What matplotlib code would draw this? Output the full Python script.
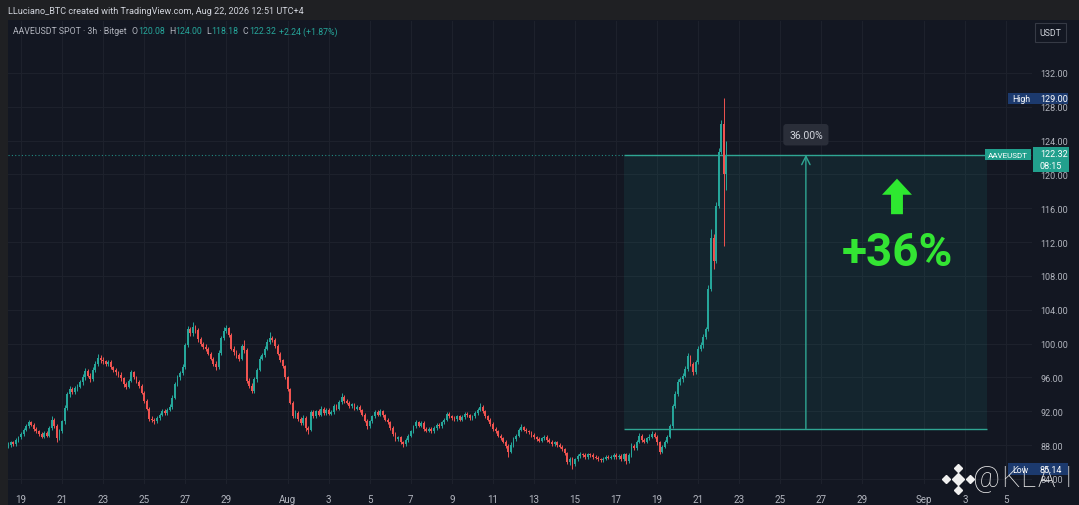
import matplotlib
matplotlib.use("Agg")
import matplotlib.pyplot as plt
import matplotlib.transforms as mtransforms
from matplotlib.patches import Rectangle
import numpy as np

plt.rcParams['font.family'] = ['Roboto', 'DejaVu Sans']

# AAVEUSDT 3h candles (Bitget), Jul 18 09:00 -> Aug 22 09:00, one row per day
first_open = 87.8
closes = [
    88.0, 88.3, 88.1, 88.6, 88.9,
    89.3, 89.8, 90.2, 90.7, 90.4, 89.9, 89.6, 89.3,
    89.0, 89.4, 89.1, 90.0, 91.0, 90.3, 88.8, 89.6,
    90.8, 92.4, 94.0, 94.6, 94.3, 94.7, 94.9, 95.4,
    96.0, 96.8, 96.2, 95.8, 96.9, 97.6, 98.3, 98.0,
    97.9, 97.6, 97.8, 97.2, 96.9, 96.6, 96.3, 95.9,
    95.2, 94.9, 95.6, 96.6, 96.0, 95.5, 95.0, 94.2,
    93.2, 92.3, 91.1, 91.0, 90.8, 91.2, 91.6, 92.0,
    91.8, 92.2, 92.5, 93.6, 95.2, 96.0, 96.5, 97.2,
    99.8, 101.7, 101.2, 102.0, 101.6, 100.5, 100.0, 99.6,
    99.4, 98.8, 98.2, 97.6, 97.2, 98.9, 100.6, 101.5,
    101.8, 101.0, 99.4, 99.0, 98.6, 98.2, 99.7, 99.2,
    95.6, 95.0, 94.4, 95.8, 96.9, 98.2, 98.6, 99.4,
    100.2, 100.6, 100.4, 99.7, 98.8, 98.0, 97.3, 96.0,
    94.6, 93.0, 91.4, 91.8, 91.1, 90.6, 91.2, 90.0,
    89.8, 91.9, 91.4, 92.0, 91.6, 92.3, 91.8, 92.2,
    91.7, 91.9, 92.6, 92.3, 93.1, 93.7, 93.2, 93.0,
    92.6, 92.8, 92.3, 92.5, 92.1, 91.6, 90.9, 90.2,
    90.8, 91.4, 91.9, 91.6, 92.0, 91.5, 91.0, 90.7,
    90.0, 89.3, 88.7, 88.9, 88.3, 88.1, 88.6, 89.1,
    89.6, 90.2, 90.7, 90.3, 90.6, 89.9, 89.7, 89.9,
    89.6, 90.0, 90.4, 90.2, 90.7, 91.0, 91.7, 91.4,
    91.2, 91.1, 91.4, 91.0, 91.3, 91.7, 91.5, 91.2,
    91.4, 91.8, 92.2, 92.5, 92.0, 91.4, 91.0, 90.5,
    89.9, 89.6, 89.1, 88.8, 88.4, 87.9, 87.2, 88.0,
    88.7, 89.1, 89.8, 90.1, 89.8, 89.6, 89.5, 89.2,
    88.9, 88.7, 88.5, 88.8, 89.0, 88.6, 88.4, 88.1,
    88.3, 88.0, 87.8, 87.5, 87.0, 86.0, 86.4, 85.8,
    86.3, 86.7, 86.9, 86.8, 86.6, 86.9, 86.8, 86.6,
    86.5, 86.3, 86.2, 86.4, 86.6, 86.5, 86.6, 86.8,
    86.6, 86.7, 86.3, 86.9, 86.1, 86.8, 87.9, 87.6,
    88.4, 89.1, 88.6, 88.4, 88.8, 89.0, 89.3, 89.0,
    88.3, 87.2, 87.8, 88.4, 89.0, 90.2, 92.6, 94.0,
    95.4, 95.8, 96.2, 97.0, 98.5, 97.6, 96.6, 97.8,
    99.4, 99.8, 100.8, 101.7, 106.5, 112.5, 109.8, 116.3,
    122.7, 126.0, 120.08, 122.32,
]
highs = [
    88.3, 88.5, 88.5, 88.8, 89.1,
    89.5, 90.0, 90.5, 91.0, 90.9, 90.6, 90.1, 89.8,
    89.5, 89.6, 89.7, 90.2, 91.4, 91.2, 90.5, 89.9,
    91.0, 92.7, 94.3, 95.0, 94.9, 95.0, 95.2, 95.7,
    96.4, 97.1, 97.0, 96.5, 97.2, 97.9, 98.8, 98.6,
    98.4, 98.1, 98.1, 98.0, 97.4, 97.1, 96.8, 96.6,
    96.1, 95.5, 95.8, 96.9, 96.8, 96.2, 95.7, 95.2,
    94.4, 93.4, 92.5, 91.4, 91.2, 91.4, 91.8, 92.3,
    92.3, 92.4, 92.8, 93.9, 95.5, 96.3, 96.8, 97.6,
    100.1, 102.1, 102.0, 102.6, 102.2, 101.8, 100.8, 100.2,
    99.9, 99.6, 99.0, 98.4, 97.9, 99.2, 100.9, 101.9,
    102.2, 102.0, 101.2, 99.7, 99.2, 98.9, 100.0, 100.4,
    99.5, 95.9, 95.3, 96.0, 97.1, 98.5, 98.9, 99.7,
    100.5, 101.4, 100.9, 100.6, 99.9, 99.0, 98.2, 97.5,
    96.2, 94.8, 93.2, 92.1, 92.0, 91.3, 91.5, 91.4,
    90.3, 92.1, 92.2, 92.2, 92.3, 92.6, 92.5, 92.4,
    92.4, 92.1, 92.8, 92.8, 93.3, 94.1, 93.9, 93.4,
    93.2, 93.0, 93.0, 92.7, 92.7, 92.3, 91.8, 91.1,
    91.0, 91.6, 92.1, 92.1, 92.3, 92.2, 91.7, 91.2,
    90.9, 90.2, 89.5, 89.1, 89.1, 88.5, 88.8, 89.3,
    89.8, 90.4, 91.0, 90.9, 90.8, 90.8, 90.1, 90.1,
    90.1, 90.2, 90.6, 90.6, 90.9, 91.2, 91.9, 91.9,
    91.6, 91.4, 91.6, 91.6, 91.5, 91.9, 91.9, 91.7,
    91.6, 92.0, 92.4, 93.0, 92.7, 92.2, 91.6, 91.2,
    90.7, 90.1, 89.8, 89.3, 89.0, 88.6, 88.1, 88.3,
    88.9, 89.3, 90.0, 90.5, 90.3, 90.0, 89.8, 89.7,
    89.4, 89.1, 88.9, 89.0, 89.2, 89.2, 88.8, 88.6,
    88.5, 88.5, 88.2, 88.0, 87.7, 87.2, 86.6, 86.6,
    86.5, 86.9, 87.2, 87.1, 87.0, 87.1, 87.1, 87.0,
    86.8, 86.7, 86.5, 86.6, 86.8, 86.8, 86.8, 87.0,
    87.0, 86.9, 86.9, 87.1, 87.1, 87.0, 88.2, 88.1,
    88.6, 89.4, 89.3, 88.8, 89.0, 89.3, 89.7, 89.5,
    89.2, 88.5, 88.0, 88.6, 89.2, 90.5, 92.9, 94.4,
    95.8, 96.1, 96.5, 97.3, 98.9, 98.7, 97.8, 98.1,
    99.7, 100.2, 101.1, 102.0, 106.9, 113.5, 112.9, 116.7,
    123.1, 126.4, 129.0, 124.0,
]
lows = [
    87.6, 87.8, 87.9, 87.9, 88.4,
    88.7, 89.1, 89.6, 90.0, 90.2, 89.7, 89.4, 89.1,
    88.8, 88.8, 88.9, 88.9, 89.8, 90.0, 88.4, 88.6,
    89.4, 90.5, 92.2, 93.7, 94.0, 94.0, 94.4, 94.7,
    95.1, 95.7, 96.0, 95.5, 95.6, 96.6, 97.4, 97.7,
    97.6, 97.3, 97.4, 97.0, 96.6, 96.3, 96.0, 95.6,
    94.9, 94.6, 94.7, 95.4, 95.8, 95.3, 94.8, 94.0,
    93.0, 92.1, 90.9, 90.7, 90.5, 90.6, 91.0, 91.4,
    91.6, 91.5, 92.0, 92.3, 93.4, 95.0, 95.7, 96.3,
    97.0, 99.6, 100.9, 100.9, 101.3, 100.2, 99.7, 99.3,
    99.1, 98.6, 98.0, 97.3, 96.9, 97.0, 98.7, 100.4,
    101.2, 100.8, 99.2, 98.7, 98.3, 97.9, 98.0, 98.9,
    95.3, 94.8, 94.1, 94.2, 95.5, 96.7, 98.0, 98.4,
    99.2, 100.0, 100.2, 99.5, 98.6, 97.8, 97.1, 95.8,
    94.4, 92.8, 91.2, 91.2, 90.9, 90.4, 90.4, 89.6,
    89.3, 89.6, 91.2, 91.2, 91.4, 91.4, 91.6, 91.6,
    91.5, 91.5, 91.7, 92.1, 92.1, 92.9, 93.0, 92.8,
    92.4, 92.4, 92.1, 92.1, 91.9, 91.4, 90.7, 89.9,
    90.0, 90.6, 91.2, 91.4, 91.4, 91.3, 90.8, 90.5,
    89.8, 89.1, 88.5, 88.5, 88.1, 87.8, 87.9, 88.4,
    88.9, 89.4, 90.0, 90.1, 90.1, 89.7, 89.5, 89.5,
    89.4, 89.4, 89.8, 90.0, 90.0, 90.5, 90.8, 91.2,
    91.0, 90.9, 90.9, 90.8, 90.8, 91.1, 91.3, 91.0,
    91.0, 91.2, 91.6, 92.0, 91.8, 91.2, 90.8, 90.3,
    89.7, 89.4, 88.9, 88.6, 88.2, 87.7, 86.6, 87.0,
    87.8, 88.5, 88.9, 89.6, 89.6, 89.4, 89.3, 89.0,
    88.7, 88.5, 88.3, 88.3, 88.6, 88.4, 88.2, 87.9,
    87.9, 87.8, 87.6, 87.3, 86.8, 85.7, 85.6, 85.14,
    85.5, 86.1, 86.5, 86.6, 86.4, 86.4, 86.6, 86.4,
    86.3, 86.1, 86.0, 86.0, 86.2, 86.3, 86.3, 86.4,
    86.4, 86.4, 86.1, 86.1, 85.7, 85.9, 86.6, 87.4,
    87.4, 88.2, 88.4, 88.2, 88.2, 88.6, 88.8, 88.8,
    88.0, 86.9, 87.0, 87.6, 88.2, 88.8, 90.0, 92.4,
    93.8, 95.1, 95.5, 96.0, 96.8, 97.4, 96.3, 96.4,
    97.6, 99.1, 99.5, 100.5, 101.5, 106.2, 108.8, 109.5,
    116.0, 122.4, 111.5, 118.18,
]
first_candle_day = -0.625   # days after Jul 19 00:00

# time axis labels (days after Jul 19)
tick_days = [0, 2, 4, 6, 8, 10, 13, 15, 17, 19, 21, 23, 25, 27, 29, 31, 33,
             35, 37, 39, 41, 44, 46, 48]
tick_labels = ['19', '21', '23', '25', '27', '29', 'Aug', '3', '5', '7', '9', '11',
               '13', '15', '17', '19', '21', '23', '25', '27', '29', 'Sep', '3', '5']
price_ticks = [84, 88, 92, 96, 100, 104, 108, 112, 116, 120, 124, 128, 132]

# long position / range tool
box_start, box_end = 29.39, 47.08
box_low, box_high = 89.95, 122.33
measure_day = 38.25
pct_label = '36.00%'
day_high, day_low = 129.00, 85.14

BG = '#131722'
GRID = '#1d212c'
TEXT = '#b2b5be'
UP = '#26a69a'
DOWN = '#ef5350'
W, H = 1079, 506

fig = plt.figure(figsize=(W / 100, H / 100), dpi=100, facecolor='#1f2023')
fig.add_artist(Rectangle((8 / W, 0), 1 - 8 / W, (H - 21) / H, transform=fig.transFigure,
                         facecolor=BG, edgecolor='none', zorder=-5))
ax = fig.add_axes([8 / W, (H - 485) / H, 1024 / W, 463 / H], facecolor=BG)
for s in ax.spines.values():
    s.set_visible(False)

o = np.array([first_open] + closes[:-1])
c = np.array(closes)
hi = np.array(highs)
lo = np.array(lows)
t = first_candle_day + np.arange(len(c)) / 8
col = np.where(c >= o, UP, DOWN)
ax.vlines(t, lo, hi, colors=col, lw=0.7, zorder=3)
ax.bar(t, np.maximum(np.abs(c - o), 0.08), bottom=np.minimum(c, o), width=0.09,
       color=col, linewidth=0, zorder=3)

# range box
ax.add_patch(Rectangle((box_start, box_low), box_end - box_start, box_high - box_low,
                       facecolor=UP, alpha=0.10, edgecolor='none', zorder=2))
ax.hlines([box_low, box_high], box_start, box_end, color='#2fa693', lw=1.0, zorder=2.5)
ax.axhline(c[-1], color=UP, lw=0.8, ls=(0, (1, 2)), alpha=0.8, zorder=2)
ax.annotate('', xy=(measure_day, box_high), xytext=(measure_day, box_low),
            arrowprops=dict(arrowstyle='->,head_length=0.6,head_width=0.3', color='#2fa693',
                            lw=1, shrinkA=0, shrinkB=0), zorder=2.5)
ax.text(measure_day, 124.7, pct_label, ha='center', va='center', color='#d1d4dc', fontsize=7.5,
        bbox=dict(boxstyle='round,pad=0.55,rounding_size=0.3', fc='#2a2e39', ec='none'), zorder=6)

# green annotation
ax.arrow(42.69, 115.3, 0, 4.2, width=0.58, head_width=1.46, head_length=1.9,
         length_includes_head=True, color='#2ee830', lw=0, zorder=6)
ax.text(42.69, 110.8, '+36%', ha='center', va='center', fontsize=33, fontweight='bold',
        color='#33e533', zorder=6)

ax.set_xlim(-0.634, 49.27)
ax.set_ylim(83.39, 138.15)
ax.set_xticks(tick_days)
ax.set_xticklabels(tick_labels)
ax.set_yticks(price_ticks)
ax.set_yticklabels([f'{v:.2f}' for v in price_ticks])
ax.yaxis.tick_right()
ax.tick_params(axis='y', length=0, pad=6, labelsize=6.5, labelcolor=TEXT)
ax.tick_params(axis='x', length=0, pad=7, labelsize=7, labelcolor=TEXT)
ax.grid(True, color=GRID, lw=0.8, zorder=0)
ax.set_axisbelow(True)

# price scale tags
tr = mtransforms.blended_transform_factory(ax.transAxes, ax.transData)


def fx(px):
    return (px - 8) / 1024


def tag(x0, x1, y0, y1, color):
    ax.add_patch(Rectangle((fx(x0), y0), fx(x1) - fx(x0), y1 - y0, transform=tr,
                           facecolor=color, edgecolor='none', clip_on=False, zorder=8))


tag(1008, 1068, day_high - 0.65, day_high + 0.65, '#1c3a6e')
ax.text(fx(1012), day_high, 'High', transform=tr, va='center', color='white', fontsize=6.3, zorder=9)
ax.text(fx(1040), day_high, f'{day_high:.2f}', transform=tr, va='center', color='white', fontsize=6.5, zorder=9)
tag(1008, 1068, day_low - 0.7, day_low + 0.7, '#1c3a6e')
ax.text(fx(1012), day_low, 'Low', transform=tr, va='center', color='white', fontsize=6.3, zorder=9)
ax.text(fx(1040), day_low, f'{day_low:.2f}', transform=tr, va='center', color='white', fontsize=6.5, zorder=9)
tag(985, 1031, c[-1] - 0.65, c[-1] + 0.65, '#22a08d')
ax.text(fx(1008), c[-1], 'AAVEUSDT', transform=tr, ha='center', va='center', color='white',
        fontsize=5.8, zorder=9)
tag(1033, 1069, 120.29, 123.25, '#22a08d')
ax.text(fx(1040), 122.42, f'{c[-1]:.2f}', transform=tr, va='center', color='white', fontsize=6.5, zorder=9)
ax.text(fx(1040), 121.1, '08:15', transform=tr, va='center', color='white', fontsize=6.5, zorder=9)

# header
fig.text(8 / W, 1 - 12 / H, 'LLuciano_BTC created with TradingView.com, Aug 22, 2026 12:51 UTC+4',
         va='center', fontsize=6.6, color='#d1d4dc')
fig.text(1050.5 / W, 1 - 33.5 / H, 'USDT', ha='center', va='center', fontsize=6.3, color='#d1d4dc',
         bbox=dict(boxstyle='square,pad=0.55', fc=BG, ec='#363a45', lw=0.8))
renderer = fig.canvas.get_renderer()
pieces = [('AAVEUSDT SPOT · 3h · Bitget', TEXT, 5), ('O', TEXT, 0.5), ('120.08', UP, 4),
          ('H', TEXT, 0.5), ('124.00', UP, 4), ('L', TEXT, 0.5), ('118.18', UP, 4),
          ('C', TEXT, 0.5), ('122.32', UP, 3), ('+2.24 (+1.87%)', UP, 0)]
x = 13
for s, colr, gap in pieces:
    txt = fig.text(x / W, 1 - 32 / H, s, va='center', fontsize=6.3, color=colr)
    x += txt.get_window_extent(renderer).width + gap

# watermark
ov = fig.add_axes([0, 0, 1, 1], zorder=10)
ov.set_xlim(0, W)
ov.set_ylim(H, 0)
ov.axis('off')
ov.patch.set_alpha(0)
ov.plot([958], [480], 'D', ms=6, color='#f0f0f0')
ov.plot([946, 970, 958, 958], [480, 480, 469, 491], 'D', ms=4.5, color='#f0f0f0', ls='none')
for ch, px in zip('@KLAI', [986, 1010, 1028, 1046, 1068]):
    ov.text(px, 479, ch, ha='center', va='center', fontsize=21, color='#ececec', fontweight='light')

fig.savefig('out.png', dpi=100, facecolor=fig.get_facecolor())
